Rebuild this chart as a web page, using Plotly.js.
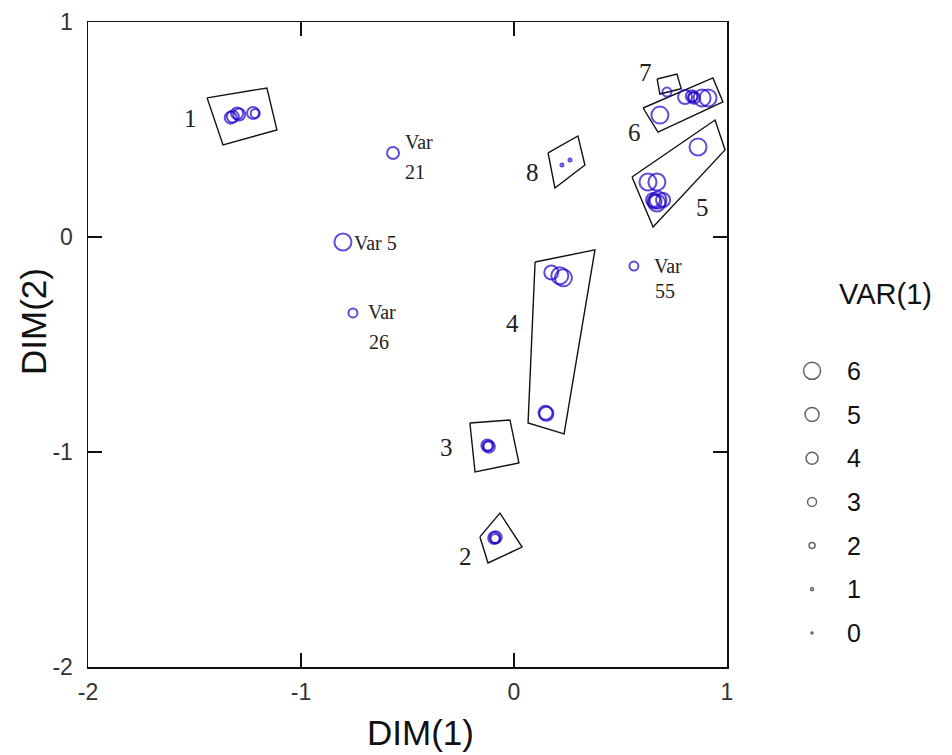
<!DOCTYPE html>
<html>
<head>
<meta charset="utf-8">
<script src="https://cdn.plot.ly/plotly-3.0.1.min.js"></script>
<style>html,body{margin:0;padding:0;background:#fff;}#chart{width:952px;height:755px;}</style>
</head>
<body>
<div id="chart"></div>
<script>
// ---- data ----
// points: DIM(1), DIM(2), VAR(1)
const pointX = [-1.33,-1.32,-1.30,-1.29,-1.225,-1.215,
  -0.093,-0.086,-0.089,
  -0.125,-0.118,-0.122,
  0.175,0.215,0.232,0.148,0.152,
  0.864,0.629,0.671,0.653,0.676,0.700,0.671,0.660,
  0.685,0.803,0.835,0.845,0.840,0.883,0.911,
  0.718,
  0.225,0.263,
  -0.568,-0.803,-0.756,0.563];
const pointY = [0.555,0.56,0.575,0.57,0.577,0.575,
  -1.40,-1.397,-1.402,
  -0.97,-0.975,-0.972,
  -0.165,-0.18,-0.19,-0.818,-0.822,
  0.419,0.256,0.256,0.172,0.172,0.172,0.158,0.165,
  0.567,0.651,0.655,0.648,0.651,0.647,0.647,
  0.674,
  0.335,0.358,
  0.391,-0.023,-0.353,-0.135];
const pointVar = [4,4,4,4,4,3,
  4,4,3,
  4,4,3,
  5,6,6,5,5,
  6,6,6,5,6,5,6,5,
  6,5,4,4,3,6,6,
  3,
  1,1,
  4,6,3,3];

// cluster hulls
const hull1X = [-1.441,-1.160,-1.113,-1.366], hull1Y = [0.647,0.693,0.498,0.428];
const hull2X = [-0.160,-0.066,0.038,-0.122], hull2Y = [-1.395,-1.284,-1.442,-1.516];
const hull3X = [-0.207,-0.019,0.023,-0.183], hull3Y = [-0.865,-0.851,-1.051,-1.093];
const hull4X = [0.099,0.380,0.235,0.066], hull4Y = [-0.116,-0.060,-0.916,-0.865];
const hull5X = [0.554,0.944,0.991,0.653], hull5Y = [0.279,0.544,0.405,0.047];
const hull6X = [0.606,0.934,0.981,0.676], hull6Y = [0.600,0.740,0.628,0.488];
const hull7X = [0.672,0.765,0.785,0.685], hull7Y = [0.735,0.758,0.690,0.665];
const hull8X = [0.160,0.300,0.333,0.192], hull8Y = [0.391,0.470,0.335,0.228];

// cluster labels
const clusterNames = ["1","2","3","4","5","6","7","8"];
const clusterLabelX = [-1.521,-0.230,-0.319,-0.009,0.883,0.568,0.615,0.085];
const clusterLabelY = [0.553,-1.488,-0.977,-0.400,0.135,0.488,0.767,0.302];

// labelled variables
const varNames = ["21","5","26","55"];
const varX = [-0.568,-0.803,-0.756,0.563];
const varY = [0.391,-0.023,-0.353,-0.135];

// size legend
const legendValues = [6,5,4,3,2,1,0];
const xTicks = [-2,-1,0,1];
const yTicks = [-2,-1,0,1];

// ---- styles ----
const sizeOf = v => [2,3,6,9,12,14,17][v];
const blue = '#1c00c8';
const W = 952, H = 755;
const px = x => x / W, py = y => 1 - y / H;

const traces = [];
const hulls = [[hull1X,hull1Y],[hull2X,hull2Y],[hull3X,hull3Y],[hull4X,hull4Y],
               [hull5X,hull5Y],[hull6X,hull6Y],[hull7X,hull7Y],[hull8X,hull8Y]];
hulls.forEach(h => {
  traces.push({type:'scatter', mode:'lines', x:h[0].concat([h[0][0]]), y:h[1].concat([h[1][0]]),
    line:{color:'#111', width:1.4}, hoverinfo:'skip', showlegend:false, xaxis:'x', yaxis:'y'});
});
traces.push({type:'scatter', mode:'markers', x:pointX, y:pointY,
  marker:{symbol:'circle-open', size:pointVar.map(sizeOf), color:blue, line:{width:2, color:blue}},
  showlegend:false, xaxis:'x', yaxis:'y'});
traces.push({type:'scatter', mode:'markers', x:legendValues.map(() => 0.265), y:legendValues,
  marker:{symbol:'circle-open', size:legendValues.map(sizeOf), color:'#222', line:{width:1.5, color:'#222'}},
  showlegend:false, xaxis:'x2', yaxis:'y2', hoverinfo:'skip'});

const serif = 'Liberation Serif, Times New Roman, serif';
const sans = 'Liberation Sans, Arial, sans-serif';
const ann = [];
clusterNames.forEach((n,i) => ann.push({x:clusterLabelX[i], y:clusterLabelY[i], xref:'x', yref:'y',
  text:n, showarrow:false, font:{family:serif, size:25, color:'#222'}}));
// Var labels
const varLines = [
  [{t:'Var', dx:10, dy:11}, {t:varNames[0], dx:10, dy:-19}],
  [{t:'Var '+varNames[1], dx:9, dy:-1}],
  [{t:'Var', dx:13, dy:1}, {t:varNames[2], dx:14, dy:-29}],
  [{t:'Var', dx:18, dy:0}, {t:varNames[3], dx:19, dy:-25}]
];
varLines.forEach((lines,i) => lines.forEach(l => ann.push({x:varX[i], y:varY[i], xref:'x', yref:'y',
  text:l.t, showarrow:false, xanchor:'left', yanchor:'middle', xshift:l.dx, yshift:l.dy,
  font:{family:serif, size:20, color:'#222'}})));
// legend
legendValues.forEach(v => ann.push({x:0.44, y:v, xref:'x2', yref:'y2', text:String(v), showarrow:false,
  xanchor:'left', yanchor:'middle', font:{family:sans, size:25, color:'#111'}}));
ann.push({x:px(885), y:py(294), xref:'paper', yref:'paper', text:'VAR(1)', showarrow:false,
  xanchor:'center', yanchor:'middle', font:{family:sans, size:29, color:'#111'}});
// axis titles
ann.push({x:px(420), y:py(732), xref:'paper', yref:'paper', text:'DIM(1)', showarrow:false,
  xanchor:'center', yanchor:'middle', font:{family:sans, size:35, color:'#111'}});
ann.push({x:px(33), y:py(322), xref:'paper', yref:'paper', text:'DIM(2)', showarrow:false, textangle:-90,
  xanchor:'center', yanchor:'middle', font:{family:sans, size:35, color:'#111'}});

const axisCommon = {showgrid:false, zeroline:false, showline:true, mirror:'ticks', linecolor:'#111', linewidth:1.5,
  ticks:'inside', ticklen:14, tickwidth:1.3, tickcolor:'#111',
  tickfont:{family:sans, size:23, color:'#333'}, fixedrange:true};

const layout = {
  width:W, height:H, margin:{l:0, r:0, t:0, b:0}, paper_bgcolor:'#fff', plot_bgcolor:'#fff',
  showlegend:false,
  xaxis:Object.assign({}, axisCommon, {domain:[px(88), px(727)], range:[-2,1], tickmode:'array', tickvals:xTicks, ticktext:xTicks.map(String), ticklabelstandoff:4}),
  yaxis:Object.assign({}, axisCommon, {domain:[py(667), py(22)], range:[-2,1], tickmode:'array', tickvals:yTicks, ticktext:yTicks.map(String), ticklabelstandoff:9}),
  xaxis2:{domain:[0.8,1.0], range:[0,1], visible:false, fixedrange:true, anchor:'y2'},
  yaxis2:{domain:[py(654.8), py(349)], range:[-0.5,6.5], visible:false, fixedrange:true, anchor:'x2'},
  annotations:ann
};
Plotly.newPlot('chart', traces, layout, {displayModeBar:false, staticPlot:true});
</script>
</body>
</html>
